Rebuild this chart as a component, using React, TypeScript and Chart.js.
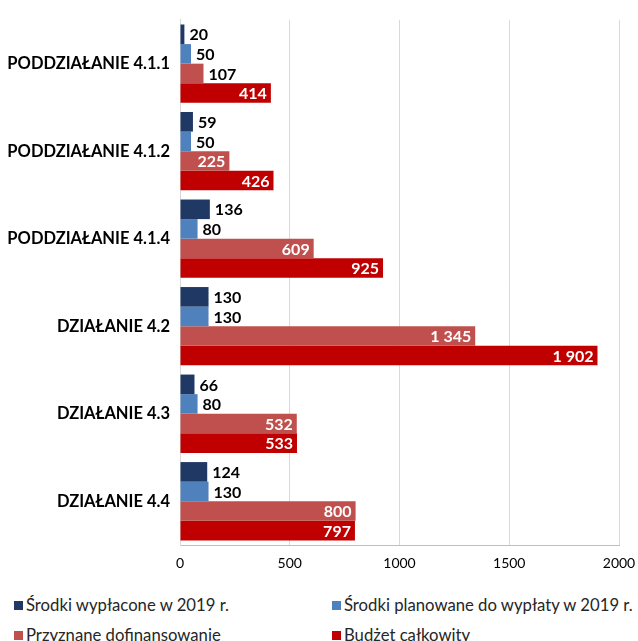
import React, { useEffect, useRef } from "react";
import { Chart, registerables } from "chart.js";

Chart.register(...registerables);

const categories = [
  "PODDZIAŁANIE 4.1.1",
  "PODDZIAŁANIE 4.1.2",
  "PODDZIAŁANIE 4.1.4",
  "DZIAŁANIE 4.2",
  "DZIAŁANIE 4.3",
  "DZIAŁANIE 4.4",
];

const seriesNames = [
  "Środki wypłacone w 2019 r.",
  "Środki planowane do wypłaty w 2019 r.",
  "Przyznane dofinansowanie",
  "Budżet całkowity",
];

const wyplacone = [20, 59, 136, 130, 66, 124];
const planowane = [50, 50, 80, 130, 80, 130];
const przyznane = [107, 225, 609, 1345, 532, 800];
const budzet = [414, 426, 925, 1902, 533, 797];

const xTicks = [0, 500, 1000, 1500, 2000];

const colors = ["#1F3864", "#4F81BD", "#C0504D", "#C00000"];

const FONT = "Lato, 'Noto Sans', sans-serif";

function fmt(v: number): string {
  const s = String(Math.round(v));
  return s.replace(/\B(?=(\d{3})+(?!\d))/g, " ");
}

const labelPlugin = {
  id: "barLabels",
  afterDatasetsDraw(chart: any) {
    const ctx = chart.ctx;
    ctx.save();
    ctx.font = `bold 16px ${FONT}`;
    ctx.textBaseline = "middle";
    chart.data.datasets.forEach((ds: any, di: number) => {
      const meta = chart.getDatasetMeta(di);
      meta.data.forEach((el: any, i: number) => {
        const v = ds.data[i];
        const txt = fmt(v);
        if (v >= 200) {
          ctx.fillStyle = "#FFFFFF";
          ctx.textAlign = "right";
          ctx.fillText(txt, el.x - 4, el.y + 1);
        } else {
          ctx.fillStyle = "#000000";
          ctx.textAlign = "left";
          ctx.fillText(txt, el.x + 5, el.y + 1);
        }
      });
    });
    ctx.restore();
  },
};

export default function App() {
  const ref = useRef<HTMLCanvasElement | null>(null);

  useEffect(() => {
    document.body.style.margin = "0";
    const data = [wyplacone, planowane, przyznane, budzet];
    const chart = new Chart(ref.current as HTMLCanvasElement, {
      type: "bar",
      data: {
        labels: categories,
        datasets: data.map((d, i) => ({
          label: seriesNames[i],
          data: d,
          backgroundColor: colors[i],
          borderWidth: 0,
          categoryPercentage: 0.895,
          barPercentage: 1.0,
        })),
      },
      options: {
        indexAxis: "y",
        animation: false,
        responsive: false,
        layout: { padding: { top: 13, right: 0, bottom: 0, left: 0 } },
        plugins: {
          legend: { display: false },
          tooltip: { enabled: false },
        },
        scales: {
          x: {
            min: 0,
            max: 2000,
            afterBuildTicks: (scale: any) => {
              scale.ticks = xTicks.map((v) => ({ value: v }));
            },
            afterFit: (scale: any) => {
              scale.height = 35;
              scale.paddingRight = 19;
            },
            grid: { color: "#D9D9D9", drawTicks: false, lineWidth: 1 },
            border: { display: true, color: "#BFBFBF", width: 1 },
            ticks: {
              padding: 10,
              color: "#000000",
              font: { family: FONT, size: 14 },
              callback: (v: any) => String(v),
            },
          },
          y: {
            afterFit: (scale: any) => {
              scale.width = 180;
            },
            grid: { display: false, drawTicks: false },
            border: { display: true, color: "#D9D9D9", width: 1 },
            ticks: {
              padding: 10,
              color: "#000000",
              font: { family: FONT, size: 16.5, weight: "bold" },
            },
          },
        },
      },
      plugins: [labelPlugin],
    });
    return () => chart.destroy();
  }, []);

  const legendItem = (i: number, left: number, top: number) => (
    <div
      key={i}
      style={{
        position: "absolute",
        left,
        top,
        height: 20,
        display: "flex",
        alignItems: "center",
        fontFamily: FONT,
        fontSize: 16.7,
        color: "#262626",
        whiteSpace: "nowrap",
      }}
    >
      <span
        style={{
          display: "inline-block",
          width: 9,
          height: 9,
          background: colors[i],
          marginRight: 3,
        }}
      />
      {seriesNames[i]}
    </div>
  );

  return (
    <div style={{ position: "relative", width: 638, height: 641, overflow: "hidden", background: "#fff" }}>
      <canvas ref={ref} width={638} height={580} style={{ display: "block" }} />
      {legendItem(0, 14, 595)}
      {legendItem(1, 332, 595)}
      {legendItem(2, 14, 625)}
      {legendItem(3, 332, 625)}
    </div>
  );
}
